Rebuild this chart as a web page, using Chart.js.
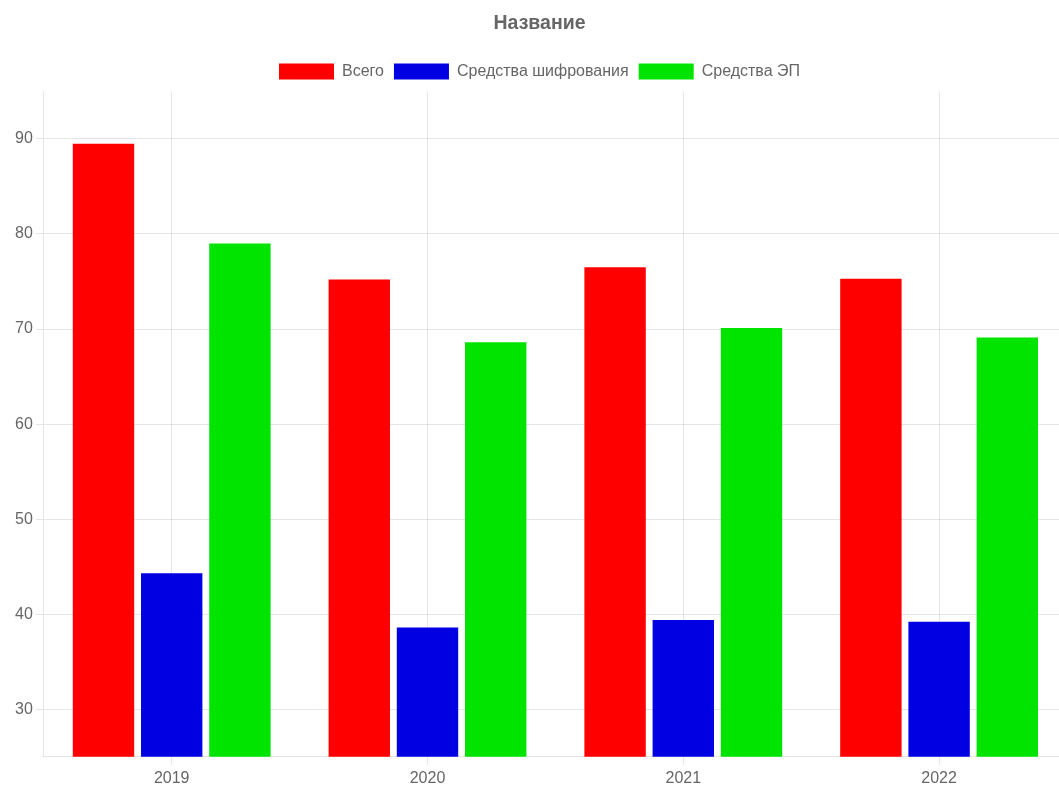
<!DOCTYPE html>
<html>
<head>
<meta charset="utf-8">
<script src="https://cdn.jsdelivr.net/npm/chart.js@4/dist/chart.umd.min.js"></script>
<style>
  html, body { margin: 0; padding: 0; background: #fff; overflow: hidden; }
  #wrap { position: absolute; left: 0; top: 0; width: 1074px; height: 792px; }
</style>
</head>
<body>
<div id="wrap"><canvas id="chart"></canvas></div>
<script>
const years = ['2019', '2020', '2021', '2022'];
const totalValues = [89.5, 75.2, 76.5, 75.3];
const cryptoValues = [44.3, 38.6, 39.4, 39.2];
const signatureValues = [79.0, 68.6, 70.1, 69.1];
const seriesNames = ['Всего', 'Средства шифрования', 'Средства ЭП'];
const yTickValues = [30, 40, 50, 60, 70, 80, 90];

Chart.defaults.font.family = '"Liberation Sans", Arial, sans-serif';
Chart.defaults.color = '#666';

// a little extra room between the legend and the plot area
const legendGap = {
  id: 'legendGap',
  beforeInit(chart) {
    const legend = chart.legend;
    if (!legend) return;
    const fit = legend.fit;
    legend.fit = function () {
      fit.call(this);
      this.height += 2;
    };
  }
};

new Chart(document.getElementById('chart'), {
  type: 'bar',
  data: {
    labels: years,
    datasets: [
      { label: seriesNames[0], data: totalValues, backgroundColor: '#ff0000' },
      { label: seriesNames[1], data: cryptoValues, backgroundColor: '#0000e2' },
      { label: seriesNames[2], data: signatureValues, backgroundColor: '#00e400' }
    ]
  },
  plugins: [legendGap],
  options: {
    responsive: true,
    maintainAspectRatio: false,
    animation: false,
    layout: { padding: { left: 12, right: 7, top: 0, bottom: 0 } },
    plugins: {
      title: {
        display: true,
        text: 'Название',
        font: { size: 19.5, weight: 'bold' },
        padding: { top: 12, bottom: 18 }
      },
      legend: {
        labels: { boxWidth: 55, boxHeight: 16, font: { size: 16 }, padding: 10 }
      },
      tooltip: { enabled: false }
    },
    scales: {
      x: {
        grid: { offset: false, color: 'rgba(0,0,0,0.1)' },
        ticks: { font: { size: 16 }, padding: 4 }
      },
      y: {
        min: 25,
        max: 95,
        grid: { color: 'rgba(0,0,0,0.1)' },
        ticks: { stepSize: 10, font: { size: 16 } },
        afterBuildTicks: axis => {
          axis.ticks = yTickValues.map(v => ({ value: v }));
        }
      }
    }
  }
});
</script>
</body>
</html>
